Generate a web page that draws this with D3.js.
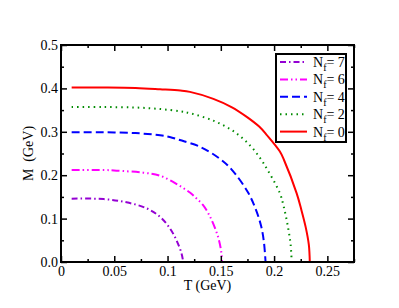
<!DOCTYPE html>
<html>
<head>
<meta charset="utf-8">
<script src="https://cdn.jsdelivr.net/npm/d3@7"></script>
<style>
  body { margin: 0; background: #fff; }
  text { font-family: "Liberation Serif", "DejaVu Serif", serif; fill: #000; }
</style>
</head>
<body>
<script>
// values: T (GeV) and M (GeV) per flavour number
var nf0T = [0.01, 0.04, 0.07, 0.093, 0.112, 0.121, 0.143, 0.16, 0.174, 0.186, 0.193, 0.2053, 0.2093, 0.2212, 0.2255, 0.2296, 0.2326, 0.2335];
var nf0M = [0.402, 0.402, 0.401, 0.398, 0.395, 0.392, 0.376, 0.357, 0.335, 0.312, 0.293, 0.255, 0.235, 0.158, 0.121, 0.081, 0.04, 0.0];

var nf2T = [0.01, 0.04, 0.07, 0.093, 0.112, 0.121, 0.143, 0.1615, 0.177, 0.187, 0.1934, 0.2052, 0.209, 0.213, 0.2155, 0.2165];
var nf2M = [0.357, 0.357, 0.356, 0.3525, 0.347, 0.343, 0.3256, 0.302, 0.2696, 0.239, 0.214, 0.16, 0.128, 0.081, 0.04, 0.0];

var nf4T = [0.01, 0.04, 0.07, 0.093, 0.102, 0.1115, 0.1303, 0.149, 0.16, 0.1756, 0.183, 0.188, 0.1905, 0.192];
var nf4M = [0.299, 0.299, 0.297, 0.292, 0.288, 0.281, 0.2657, 0.238, 0.2136, 0.16, 0.12, 0.081, 0.045, 0.0];

var nf6T = [0.01, 0.04, 0.0522, 0.0772, 0.0928, 0.11, 0.121, 0.127, 0.133, 0.1396, 0.1474, 0.1506, 0.151];
var nf6M = [0.212, 0.212, 0.2105, 0.2058, 0.199, 0.1774, 0.16, 0.1467, 0.132, 0.106, 0.058, 0.02, 0.0];

var nf7T = [0.01, 0.04, 0.0615, 0.0803, 0.0928, 0.1022, 0.1084, 0.1131, 0.1147];
var nf7M = [0.146, 0.145, 0.1375, 0.1237, 0.1045, 0.0776, 0.05, 0.02, 0.0];

var legendLabels = ['7', '6', '4', '2', '0'];
var xTicks = [0, 0.05, 0.1, 0.15, 0.2, 0.25];
var xTickLabels = ['0', '0.05', '0.1', '0.15', '0.2', '0.25'];
var yTicks = [0, 0.1, 0.2, 0.3, 0.4, 0.5];
var yTickLabels = ['0.0', '0.1', '0.2', '0.3', '0.4', '0.5'];
var xMinor = [0.025, 0.075, 0.125, 0.175, 0.225, 0.275];
var yMinor = [0.05, 0.15, 0.25, 0.35, 0.45];

var series = [
  {T: nf7T, M: nf7M, color: '#9400d3', dash: '6,3,1.5,3'},
  {T: nf6T, M: nf6M, color: '#ff00ff', dash: '8,3,1.5,3,1.5,3'},
  {T: nf4T, M: nf4M, color: '#0000ff', dash: '8,4'},
  {T: nf2T, M: nf2M, color: '#008b00', dash: '1.5,4'},
  {T: nf0T, M: nf0M, color: '#ff0000', dash: null}
];

var width = 399;
var height = 308;
var plotLeft = 61, plotRight = 354, plotTop = 45, plotBottom = 262;

var x = d3.scaleLinear().domain([0, 0.275]).range([plotLeft, plotRight]);
var y = d3.scaleLinear().domain([0, 0.5]).range([plotBottom, plotTop]);

var svg = d3.select('body').append('svg')
  .attr('width', width)
  .attr('height', height);

// curves
var line = d3.line()
  .x(function(d) { return x(d[0]); })
  .y(function(d) { return y(d[1]); })
  .curve(d3.curveCatmullRom.alpha(0.5));

series.forEach(function(s) {
  var pts = s.T.map(function(t, i) { return [t, s.M[i]]; });
  svg.append('path')
    .datum(pts)
    .attr('d', line)
    .attr('fill', 'none')
    .attr('stroke', s.color)
    .attr('stroke-width', 2)
    .attr('stroke-dasharray', s.dash);
});

// axes, ticks pointing inward on all four sides
function styleAxis(g) {
  g.select('.domain').remove();
  g.selectAll('line').attr('stroke', '#000').attr('stroke-width', 1.5);
  g.selectAll('text')
    .attr('fill', '#000')
    .style('font-family', '"Liberation Serif", serif')
    .style('font-size', '14px');
}

svg.append('g')
  .attr('transform', 'translate(0,' + plotBottom + ')')
  .call(d3.axisBottom(x).tickValues(xTicks).tickSize(-6).tickPadding(4)
    .tickFormat(function(d, i) { return xTickLabels[i]; }))
  .call(styleAxis);
svg.append('g')
  .attr('transform', 'translate(0,' + plotBottom + ')')
  .call(d3.axisBottom(x).tickValues(xMinor).tickSize(-3).tickFormat(''))
  .call(styleAxis);
svg.append('g')
  .attr('transform', 'translate(0,' + plotTop + ')')
  .call(d3.axisTop(x).tickValues(xTicks).tickSize(-6).tickFormat(''))
  .call(styleAxis);
svg.append('g')
  .attr('transform', 'translate(0,' + plotTop + ')')
  .call(d3.axisTop(x).tickValues(xMinor).tickSize(-3).tickFormat(''))
  .call(styleAxis);

svg.append('g')
  .attr('transform', 'translate(' + plotLeft + ',0)')
  .call(d3.axisLeft(y).tickValues(yTicks).tickSize(-6).tickPadding(3)
    .tickFormat(function(d, i) { return yTickLabels[i]; }))
  .call(styleAxis);
svg.append('g')
  .attr('transform', 'translate(' + plotLeft + ',0)')
  .call(d3.axisLeft(y).tickValues(yMinor).tickSize(-3).tickFormat(''))
  .call(styleAxis);
svg.append('g')
  .attr('transform', 'translate(' + plotRight + ',0)')
  .call(d3.axisRight(y).tickValues(yTicks).tickSize(-6).tickFormat(''))
  .call(styleAxis);
svg.append('g')
  .attr('transform', 'translate(' + plotRight + ',0)')
  .call(d3.axisRight(y).tickValues(yMinor).tickSize(-3).tickFormat(''))
  .call(styleAxis);

// frame
svg.append('rect')
  .attr('x', plotLeft)
  .attr('y', plotTop)
  .attr('width', plotRight - plotLeft)
  .attr('height', plotBottom - plotTop)
  .attr('fill', 'none')
  .attr('stroke', '#000')
  .attr('stroke-width', 2);

// axis titles
svg.append('text')
  .attr('x', (plotLeft + plotRight) / 2)
  .attr('y', 290)
  .attr('text-anchor', 'middle')
  .style('font-size', '14px')
  .text('T (GeV)');

svg.append('text')
  .attr('transform', 'translate(33,' + ((plotTop + plotBottom) / 2) + ') rotate(-90)')
  .attr('text-anchor', 'middle')
  .style('font-size', '14px')
  .style('white-space', 'pre')
  .text('M  (GeV)');

// legend
var legend = svg.append('g');
legend.append('rect')
  .attr('x', 276)
  .attr('y', 54)
  .attr('width', 70)
  .attr('height', 88)
  .attr('fill', '#fff')
  .attr('stroke', '#000')
  .attr('stroke-width', 2);

series.forEach(function(s, i) {
  var ry = 62 + i * 17.4;
  legend.append('line')
    .attr('x1', 280).attr('x2', 307)
    .attr('y1', ry).attr('y2', ry)
    .attr('stroke', s.color)
    .attr('stroke-width', 2)
    .attr('stroke-dasharray', s.dash);
  var t = legend.append('text')
    .attr('x', 313)
    .attr('y', ry + 5)
    .style('font-size', '14px');
  t.append('tspan').text('N');
  t.append('tspan').attr('dy', 4).style('font-size', '10px').text('f');
  t.append('tspan').attr('dy', -4).text('= ' + legendLabels[i]);
});
</script>
</body>
</html>
